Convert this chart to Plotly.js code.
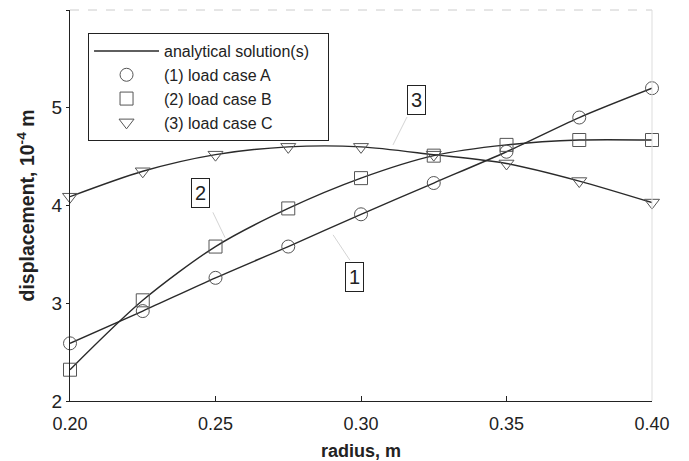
<!DOCTYPE html>
<html>
<head>
<meta charset="utf-8">
<script src="https://cdn.plot.ly/plotly-3.0.1.min.js"></script>
<style>html,body{margin:0;padding:0;background:#fff;}#chart{width:689px;height:461px;}</style>
</head>
<body>
<div id="chart"></div>
<script>
// Data
const radius = [0.200, 0.225, 0.250, 0.275, 0.300, 0.325, 0.350, 0.375, 0.400];
const caseA = [2.59, 2.92, 3.26, 3.58, 3.91, 4.23, 4.55, 4.90, 5.20];
const caseB = [2.32, 3.03, 3.58, 3.97, 4.28, 4.51, 4.62, 4.67, 4.67];
const caseC = [4.09, 4.35, 4.52, 4.60, 4.60, 4.52, 4.43, 4.25, 4.03];
const xTicks = [0.20, 0.25, 0.30, 0.35, 0.40];
const xTickText = ['0.20', '0.25', '0.30', '0.35', '0.40'];
const yTicks = [2, 3, 4, 5, 6];
const seriesNames = ['(1) load case A', '(2) load case B', '(3) load case C'];
const curveLabels = ['1', '2', '3'];

const FONT = '"Liberation Sans", Arial, sans-serif';
const lineColor = '#2a2a2a';
const markColor = '#555555';

const series = [caseA, caseB, caseC];
const symbols = ['circle-open', 'square-open', 'triangle-down-open'];

const traces = [];
series.forEach((ys, i) => {
  traces.push({
    x: radius, y: ys, type: 'scatter', mode: 'lines',
    line: {color: lineColor, width: 1.4, shape: 'spline', smoothing: 0.8},
    name: 'analytical solution(s)&nbsp;&nbsp;&nbsp;',
    showlegend: i === 0, legendrank: 1, hoverinfo: 'skip', cliponaxis: false
  });
});
series.forEach((ys, i) => {
  traces.push({
    x: radius, y: ys, type: 'scatter', mode: 'markers',
    marker: {symbol: symbols[i], size: 13, color: markColor, line: {width: 1, color: markColor}},
    name: seriesNames[i], legendrank: 2 + i, cliponaxis: false
  });
});

const labelPos = [[0.2976, 3.27], [0.245, 4.13], [0.3192, 5.08]];
const annotations = curveLabels.map((t, i) => ({
  x: labelPos[i][0], y: labelPos[i][1], xref: 'x', yref: 'y',
  text: t, showarrow: false, bordercolor: '#222', borderwidth: 1, borderpad: 3,
  bgcolor: 'rgba(255,255,255,0)', font: {family: FONT, size: 20, color: '#222'}
}));

const leaders = [
  [0.3158, 4.905, 0.311, 4.62],
  [0.2962, 3.44, 0.2904, 3.70],
  [0.2491, 3.93, 0.2533, 3.67]
];
const shapes = leaders.map(l => ({
  type: 'line', xref: 'x', yref: 'y', x0: l[0], y0: l[1], x1: l[2], y1: l[3],
  line: {color: '#d4d4d4', width: 1}
}));
shapes.push({type: 'line', xref: 'paper', yref: 'paper', x0: 0, x1: 1, y0: 1, y1: 1,
  line: {color: '#cccccc', width: 1, dash: 'dash'}});
shapes.push({type: 'line', xref: 'paper', yref: 'paper', x0: 1, x1: 1, y0: 0, y1: 1,
  line: {color: '#dddddd', width: 1}});

const layout = {
  width: 689, height: 461,
  margin: {l: 70, r: 37, t: 10, b: 60},
  paper_bgcolor: '#fff', plot_bgcolor: '#fff',
  font: {family: FONT, size: 18, color: '#222'},
  showlegend: true,
  legend: {
    x: 0.031, y: 0.941, xanchor: 'left', yanchor: 'top',
    bordercolor: '#222', borderwidth: 1, bgcolor: '#fff',
    font: {family: FONT, size: 16, color: '#222'},
    traceorder: 'normal', tracegroupgap: 0, itemwidth: 65
  },
  xaxis: {
    range: [0.2, 0.4], tickvals: xTicks, ticktext: xTickText,
    showgrid: false, zeroline: false, showline: true, linecolor: '#222', linewidth: 1.2,
    ticks: 'inside', ticklen: 5, tickcolor: '#222', ticklabelstandoff: 6,
    tickfont: {family: FONT, size: 18, color: '#222'},
    title: {text: '<b>radius, m</b>', font: {family: FONT, size: 18, color: '#222'}, standoff: 12}
  },
  yaxis: {
    range: [2, 6], tickvals: yTicks,
    showgrid: false, zeroline: false, showline: true, linecolor: '#222', linewidth: 1.2,
    ticks: 'outside', ticklen: 3, tickcolor: '#222',
    tickfont: {family: FONT, size: 19, color: '#222'},
    title: {text: '<b>displacement, 10<sup>-4</sup> m</b>', font: {family: FONT, size: 19.5, color: '#222'}, standoff: 11}
  },
  annotations: annotations,
  shapes: shapes
};

Plotly.newPlot('chart', traces, layout, {displayModeBar: false, staticPlot: true});
</script>
</body>
</html>
